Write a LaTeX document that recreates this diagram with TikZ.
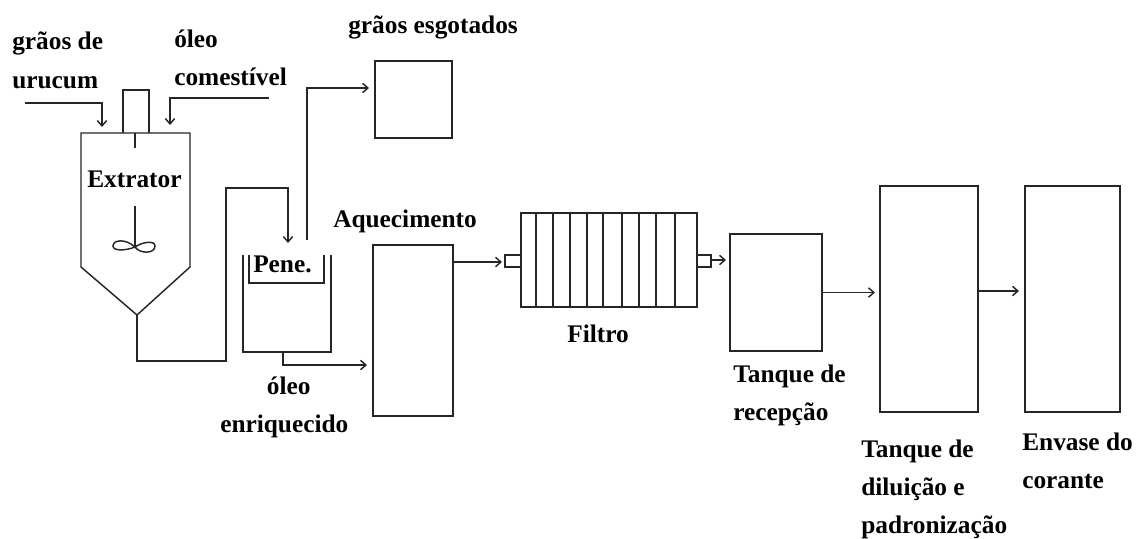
\documentclass[tikz,border=0pt]{standalone}
\usepackage{fontspec}
\setmainfont{Liberation Serif}
\usetikzlibrary{arrows.meta}
\colorlet{dline}{black!85}
\tikzstyle{pipe}=[line width=1.1pt,dline]
\tikzstyle{flow}=[line width=1.1pt,dline,-{Straight Barb[length=4pt,width=7pt]}]
\tikzstyle{tank}=[draw=dline,line width=1.1pt,inner sep=0pt,outer sep=0pt]
\tikzstyle{lbl}=[inner sep=0pt,anchor=base west,align=left,font=\fontsize{19}{28.5}\selectfont\bfseries]
\begin{document}
\begin{tikzpicture}[x=.75pt,y=-.75pt]
	\useasboundingbox (0,0) rectangle (1136,539);
	\coordinate (apex) at (137,315);
	\coordinate (sieveout) at (283,352);
	\coordinate (sievetop) at (288,243);
	\coordinate (sievevent) at (307,240);
	\node[tank,minimum width=57.75pt,minimum height=57.75pt] (esgot) at (413.5,99.5) {};
	\node[tank,minimum width=60pt,minimum height=128.25pt] (aquec) at (413,330.5) {};
	\node[tank,minimum width=132pt,minimum height=70.5pt] (filtro) at (609,260) {};
	\node[tank,minimum width=12pt,minimum height=9pt] (bocaA) at (513,261) {};
	\node[tank,minimum width=10.5pt,minimum height=9pt] (bocaB) at (704,261) {};
	\node[tank,minimum width=69pt,minimum height=87.75pt] (recep) at (776,292.5) {};
	\node[tank,minimum width=73.5pt,minimum height=169.5pt] (dilui) at (929,299) {};
	\node[tank,minimum width=71.25pt,minimum height=169.5pt] (envase) at (1072.5,299) {};
	\draw[pipe] (81,133) -- (190,133) -- (190,267) -- (apex) -- (81,267) -- cycle;
	\draw[pipe] (123,133) -- (123,90) -- (149,90) -- (149,133);
	\draw[pipe] (135,133) -- (135,148);
	\draw[pipe] (135,206) -- (135,247);
	\draw[pipe] (135,247) .. controls (125,238) and (113,240) .. (113,246) .. controls (113,251) and (125,251) .. (135,247)
		.. controls (140,254) and (155,254) .. (155,246) .. controls (155,240) and (142,242) .. (135,247);
	\draw[pipe] (243,255) -- (243,352) -- (331,352) -- (331,255);
	\draw[pipe] (249,255) -- (249,283) -- (324,283) -- (324,255);
	\foreach \xdiv in {536,553,570,587,603,622,639,656,675}
		\draw[pipe] (\xdiv,213) -- (\xdiv,307);
	\draw[flow] (25,103) -- (102,103) -- (102,127);
	\draw[flow] (269,98) -- (170,98) -- (170,125);
	\draw[flow] (apex) -- (137,361) -- (226,361) -- (226,188) -- (288,188) -- (sievetop);
	\draw[flow] (sievevent) -- (307,88) -- (369,88);
	\draw[flow] (sieveout) -- (283,365) -- (367,365);
	\draw[flow] (aquec.east |- 0,262) -- (502,262);
	\draw[flow] (bocaB.east |- 0,260) -- (726,260);
	\draw[flow] (recep.east) -- (875,292.5);
	\draw[flow] (dilui.east |- 0,291) -- (1019,291);
	\node[lbl] (lgraos) at (12,88) {grãos de\\urucum};
	\node[lbl] (loleo) at (174,85) {óleo\\comestível};
	\node[lbl] (lesgot) at (348,33) {grãos esgotados};
	\node[lbl] (lextr) at (87,187) {Extrator};
	\node[lbl] (lpene) at (253,272) {Pene.};
	\node[lbl] (laquec) at (333,227) {Aquecimento};
	\node[lbl] (lenriq) at (220,432) {\hspace*{35pt}óleo\\enriquecido};
	\node[lbl] (lfiltro) at (567,342) {Filtro};
	\node[lbl] (lrecep) at (733,420) {Tanque de\\recepção};
	\node[lbl] (ldilui) at (861,533) {Tanque de\\diluição e\\padronização};
	\node[lbl] (lenvase) at (1022,488) {Envase do\\corante};
\end{tikzpicture}
\end{document}
